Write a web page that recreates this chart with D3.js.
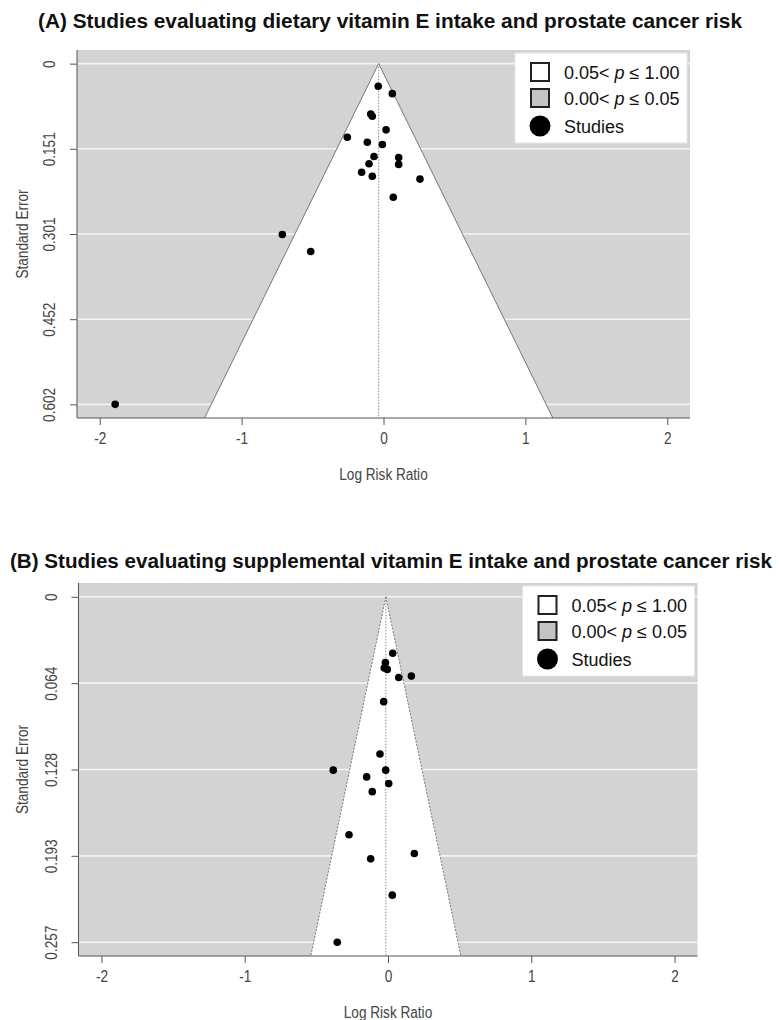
<!DOCTYPE html>
<html><head><meta charset="utf-8">
<script src="https://cdn.jsdelivr.net/npm/d3@7"></script>
<style>
html,body{margin:0;padding:0;background:#fff;}
svg{display:block;}
</style></head>
<body>
<svg id="chart" width="779" height="1020"></svg>
<script>
// ---------- DATA ----------
const titleA = "(A) Studies evaluating dietary vitamin E intake and prostate cancer risk";
const titleB = "(B) Studies evaluating supplemental vitamin E intake and prostate cancer risk";
const xTickValues = [-2, -1, 0, 1, 2];
const xAxisLabel = "Log Risk Ratio";
const yAxisLabel = "Standard Error";
const legendLabels = ["0.05< ", "0.00< ", "Studies"];
const legendRanges = [" \u2264 1.00", " \u2264 0.05"];

// Panel A: dietary vitamin E (log RR, SE)
const dietLogRR = [-0.037, 0.062, -0.090, -0.079, 0.018, -0.255, -0.114, -0.008, -0.067, 0.107, 0.107, -0.102, -0.154, -0.079, 0.257, 0.069, -0.713, -0.513, -1.891];
const dietSE    = [0.040, 0.053, 0.089, 0.093, 0.117, 0.130, 0.139, 0.143, 0.164, 0.166, 0.178, 0.177, 0.192, 0.199, 0.204, 0.236, 0.302, 0.332, 0.602];
const dietPooled = -0.034;
const dietYTicks = ["0", "0.151", "0.301", "0.452", "0.602"];
const dietSEMax = 0.602;

// Panel B: supplemental vitamin E (log RR, SE)
const suppLogRR = [0.033, -0.018, -0.026, -0.005, 0.075, 0.163, -0.030, -0.056, -0.382, -0.016, -0.149, 0.005, -0.110, -0.272, 0.184, -0.121, 0.030, -0.354];
const suppSE    = [0.042, 0.049, 0.053, 0.054, 0.060, 0.059, 0.078, 0.117, 0.129, 0.129, 0.134, 0.139, 0.145, 0.177, 0.191, 0.195, 0.222, 0.257];
const suppPooled = -0.015;
const suppYTicks = ["0", "0.064", "0.128", "0.193", "0.257"];
const suppSEMax = 0.257;

// ---------- DRAW ----------
const svg = d3.select("#chart");
const narrow = "'Liberation Sans',Arial,Helvetica,sans-serif";
const sans = "'Liberation Sans',Arial,Helvetica,sans-serif";
const GRAY = "#d3d3d3";

function condense(sel, f) {
  sel.each(function () {
    const w = this.getComputedTextLength();
    d3.select(this).attr("textLength", w * f).attr("lengthAdjust", "spacingAndGlyphs");
  });
}

function panel(cfg) {
  const {title, titleY, titleX, titleLen, left, right, top, bottom, logRR, se, pooled, seMax, yTickLabels, funnelDash} = cfg;
  const g = svg.append("g");
  const ext = seMax * 0.04;
  const x = d3.scaleLinear().domain([-2.16, 2.16]).range([left, right]);
  const y = d3.scaleLinear().domain([-ext, seMax + ext]).range([top, bottom]);
  const yTickVals = yTickLabels.map((d, i) => seMax * i / (yTickLabels.length - 1));
  const yMax = seMax + ext;

  // title
  svg.append("text").attr("x", titleX).attr("y", titleY)
    .attr("font-family", sans).attr("font-weight", "bold").attr("font-size", 20)
    .attr("textLength", titleLen).attr("lengthAdjust", "spacingAndGlyphs")
    .attr("fill", "#111").text(title);

  // background
  g.append("rect").attr("x", left).attr("y", top).attr("width", right - left).attr("height", bottom - top).attr("fill", GRAY);
  // grid lines
  g.selectAll("line.grid").data(yTickVals).join("line").attr("class", "grid")
    .attr("x1", left).attr("x2", right).attr("y1", d => y(d)).attr("y2", d => y(d))
    .attr("stroke", "#f4f4f4").attr("stroke-width", 1.6);
  // funnel white region
  const tri = [[pooled, 0], [pooled - 1.96 * yMax, yMax], [pooled + 1.96 * yMax, yMax]];
  g.append("defs").append("clipPath").attr("id", "clip" + top)
    .append("rect").attr("x", left).attr("y", top).attr("width", right - left).attr("height", bottom - top);
  const cg = g.append("g").attr("clip-path", `url(#clip${top})`);
  cg.append("path").attr("d", d3.line().x(d => x(d[0])).y(d => y(d[1]))(tri) + "Z").attr("fill", "#fff");
  // funnel edges
  [[tri[0], tri[1]], [tri[0], tri[2]]].forEach(seg => {
    cg.append("line").attr("x1", x(seg[0][0])).attr("y1", y(seg[0][1])).attr("x2", x(seg[1][0])).attr("y2", y(seg[1][1]))
      .attr("stroke", "#777").attr("stroke-width", 1).attr("stroke-dasharray", funnelDash);
  });
  // center line
  cg.append("line").attr("x1", x(pooled)).attr("x2", x(pooled)).attr("y1", y(0)).attr("y2", bottom)
    .attr("stroke", "#888").attr("stroke-width", 1).attr("stroke-dasharray", "1.5,1.5");
  // points
  cg.selectAll("circle.pt").data(logRR.map((v, i) => [v, se[i]])).join("circle").attr("class", "pt")
    .attr("cx", d => x(d[0])).attr("cy", d => y(d[1])).attr("r", 3.8).attr("fill", "#000");

  // axes
  const ax = g.append("g").attr("transform", `translate(0,${bottom})`)
    .call(d3.axisBottom(x).tickValues(xTickValues).tickFormat(d => String(d)).tickSize(7).tickPadding(8).tickSizeOuter(0));
  ax.select(".domain").attr("stroke", "#555").attr("d", `M${left},0H${right}`);
  ax.selectAll(".tick line").attr("stroke", "#555");
  ax.selectAll(".tick text").attr("font-family", narrow).attr("font-size", 16).attr("fill", "#444");
  condense(ax.selectAll(".tick text"), 0.85);
  const ay = g.append("g").attr("transform", `translate(${left},0)`)
    .call(d3.axisLeft(y).tickValues(yTickVals).tickFormat((d, i) => yTickLabels[i]).tickSize(7).tickSizeOuter(0));
  ay.select(".domain").attr("stroke", "#555").attr("d", `M0,${top}V${bottom}`);
  ay.selectAll(".tick line").attr("stroke", "#555");
  ay.selectAll(".tick text").attr("font-family", narrow).attr("font-size", 16).attr("fill", "#444")
    .attr("transform", "rotate(-90)").attr("text-anchor", "middle").attr("x", 0).attr("y", -22).attr("dy", "0");
  condense(ay.selectAll(".tick text"), 0.85);
  // axis titles
  const xt = g.append("text").attr("x", (x(-2) + x(2)) / 2).attr("y", bottom + 62).attr("text-anchor", "middle")
    .attr("font-family", narrow).attr("font-size", 16).attr("fill", "#444").text(xAxisLabel);
  condense(xt, 0.85);
  const yt = g.append("text").attr("transform", `translate(28,${(top + bottom) / 2}) rotate(-90)`).attr("text-anchor", "middle")
    .attr("font-family", narrow).attr("font-size", 16).attr("fill", "#444").text(yAxisLabel);
  condense(yt, 0.85);

  // legend
  const lw = 172, lh = 90, lx = right - 3 - lw, ly = top + 3;
  const lg = g.append("g").attr("transform", `translate(${lx},${ly})`);
  lg.append("rect").attr("width", lw).attr("height", lh).attr("fill", "#fff").attr("stroke", "#e6e6e6");
  const rows = [19, 45, 73];
  [["#fff"], ["#c4c4c4"]].forEach((f, i) => {
    lg.append("rect").attr("x", 16).attr("y", rows[i] - 9).attr("width", 18).attr("height", 18)
      .attr("fill", f[0]).attr("stroke", "#222").attr("stroke-width", 2);
    const t = lg.append("text").attr("x", 49).attr("y", rows[i] + 6.5).attr("font-family", sans).attr("font-size", 18).attr("fill", "#111");
    t.append("tspan").text(legendLabels[i]);
    t.append("tspan").attr("font-style", "italic").text("p");
    t.append("tspan").text(legendRanges[i]);
  });
  lg.append("circle").attr("cx", 25).attr("cy", rows[2]).attr("r", 10.5).attr("fill", "#000");
  lg.append("text").attr("x", 49).attr("y", rows[2] + 6.5).attr("font-family", sans).attr("font-size", 18).attr("fill", "#111").text(legendLabels[2]);
}

panel({title: titleA, titleX: 38, titleY: 28, titleLen: 704, left: 77, right: 690, top: 50, bottom: 418,
  logRR: dietLogRR, se: dietSE, pooled: dietPooled, seMax: dietSEMax, yTickLabels: dietYTicks, funnelDash: null});
panel({title: titleB, titleX: 10, titleY: 568, titleLen: 762, left: 78.5, right: 697.5, top: 583, bottom: 956,
  logRR: suppLogRR, se: suppSE, pooled: suppPooled, seMax: suppSEMax, yTickLabels: suppYTicks, funnelDash: "2,1.5"});
</script>
</body></html>
